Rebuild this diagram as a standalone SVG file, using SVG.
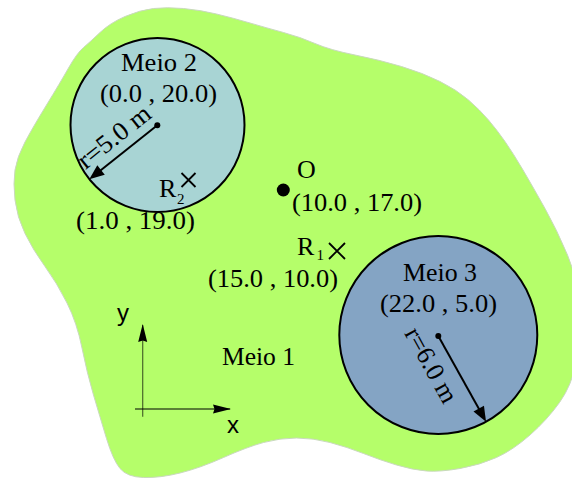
<svg xmlns="http://www.w3.org/2000/svg" width="572" height="484" viewBox="0 0 572 484">
<defs>
<style>
.t{font-family:"Liberation Serif","Times New Roman",serif;font-size:26px;fill:#000}
.s{font-family:"Liberation Serif","Times New Roman",serif;font-size:15px;fill:#000}
.a{font-family:"Liberation Sans",Arial,sans-serif;font-size:24px;fill:#000}
.circ{stroke:#000;stroke-width:2}
.rad{stroke:#000;stroke-width:2;fill:none}
.cross{stroke:#000;stroke-width:1.8;fill:none}
.axis{stroke:#000;stroke-width:1.2;fill:none}
</style>
<marker id="rhead" markerUnits="userSpaceOnUse" markerWidth="16" markerHeight="13" refX="10" refY="6" orient="auto" overflow="visible">
<path d="M0,0 L15,6 L0,12 z" fill="#000"/>
</marker>
<marker id="ahead" markerUnits="userSpaceOnUse" markerWidth="19" markerHeight="10" refX="17" refY="4.5" orient="auto" overflow="visible">
<path d="M0,0 L18,4.5 L0,9 L1.5,4.5 z" fill="#000"/>
</marker>
</defs>

<g id="meio1">
<path fill="#b5fe6a" stroke="#c9d9bd" stroke-width="1" d="M83.5,47.5 Q90,42 100,32.5 Q110,23 125,16.5 Q140,10 153.5,8.5 Q167,7 183.5,8.5 Q200,10 216.5,14 Q233,18 250,23 Q267,28 283.5,32.5 Q300,37 315,43.5 Q330,50 355,55 Q380,60 401.5,66.5 Q423,73 440,81.5 Q457,90 468.5,100 Q480,110 488.5,120 Q497,130 505,141.5 Q513,153 523,170 Q533,187 545,208.5 Q557,230 567.5,255 Q578,280 579,310 Q580,340 576,362.5 Q572,385 559.5,402.5 Q547,420 530,435 Q513,450 496.5,457.5 Q480,465 460,468.5 Q440,472 426.5,471 Q413,470 396.5,465 Q380,460 363.5,453.5 Q347,447 330,442.5 Q313,438 296.5,438 Q280,438 263.5,442.5 Q247,447 223.5,457.5 Q200,468 180,473 Q160,478 143.5,477.5 Q127,477 120,468.5 Q113,460 106.5,438.5 Q100,417 93.5,395 Q87,373 82,348 Q77,323 67,303 Q57,283 45,266.5 Q33,250 25,233.5 Q17,217 15,200 Q13,183 15,170 Q17,157 25,142 Q33,127 46.5,105 Q60,83 68.5,68 Q77,53 83.5,47.5 Z"/>
<text class="t" x="222" y="365" textLength="73" lengthAdjust="spacingAndGlyphs">Meio 1</text>
</g>

<g id="meio2">
<circle class="circ" cx="157.5" cy="125" r="87" fill="#a8d4d4"/>
<circle cx="157.3" cy="125.3" r="3" fill="#000"/>
<text class="t" x="121" y="71" textLength="76" lengthAdjust="spacingAndGlyphs">Meio 2</text>
<text class="t" x="100" y="101.5" textLength="117" lengthAdjust="spacingAndGlyphs">(0.0 , 20.0)</text>
<text class="t" transform="translate(85.6,170.1) rotate(-38.5)" x="0" y="0" textLength="86" lengthAdjust="spacingAndGlyphs">r=5.0 m</text>
</g>

<g id="meio3">
<circle class="circ" cx="438.3" cy="335" r="99" fill="#84a4c4"/>
<circle cx="438.3" cy="336" r="3" fill="#000"/>
<text class="t" x="403" y="281" textLength="74" lengthAdjust="spacingAndGlyphs">Meio 3</text>
<text class="t" x="380" y="312" textLength="117" lengthAdjust="spacingAndGlyphs">(22.0 , 5.0)</text>
<text class="t" transform="translate(403.9,333.3) rotate(61)" x="0" y="0" textLength="82" lengthAdjust="spacingAndGlyphs">r=6.0 m</text>
</g>

<g id="pointO">
<circle cx="283.3" cy="190" r="6.5" fill="#000"/>
<text class="t" x="297" y="178">O</text>
<text class="t" x="292" y="210.7" textLength="130" lengthAdjust="spacingAndGlyphs">(10.0 , 17.0)</text>
</g>

<g id="pointR1">
<path class="cross" d="M329,243 L345,259 M345,243 L329,259"/>
<text class="t" x="297" y="255">R</text>
<text class="s" x="316.5" y="260">1</text>
<text class="t" x="208" y="286.5" textLength="130" lengthAdjust="spacingAndGlyphs">(15.0 , 10.0)</text>
</g>

<g id="pointR2">
<path class="cross" d="M181.5,173 L195.5,187 M195.5,173 L181.5,187"/>
<text class="t" x="159" y="197">R</text>
<text class="s" x="177" y="204">2</text>
<text class="t" x="76" y="228.5" textLength="119" lengthAdjust="spacingAndGlyphs">(1.0 , 19.0)</text>
</g>

<g id="axes">
<line class="axis" x1="142.7" y1="416.7" x2="142.7" y2="325" stroke-opacity="0.6" marker-end="url(#ahead)"/>
<line class="axis" x1="135" y1="409" x2="230" y2="409" marker-end="url(#ahead)"/>
<text class="a" x="117" y="321">y</text>
<text class="a" x="227" y="433">x</text>
</g>

<g id="connectors">
<line class="rad" x1="157.3" y1="125.3" x2="93.2" y2="176.2" marker-end="url(#rhead)"/>
<line class="rad" x1="438.3" y1="336" x2="483.6" y2="417.3" marker-end="url(#rhead)"/>
</g>
</svg>
